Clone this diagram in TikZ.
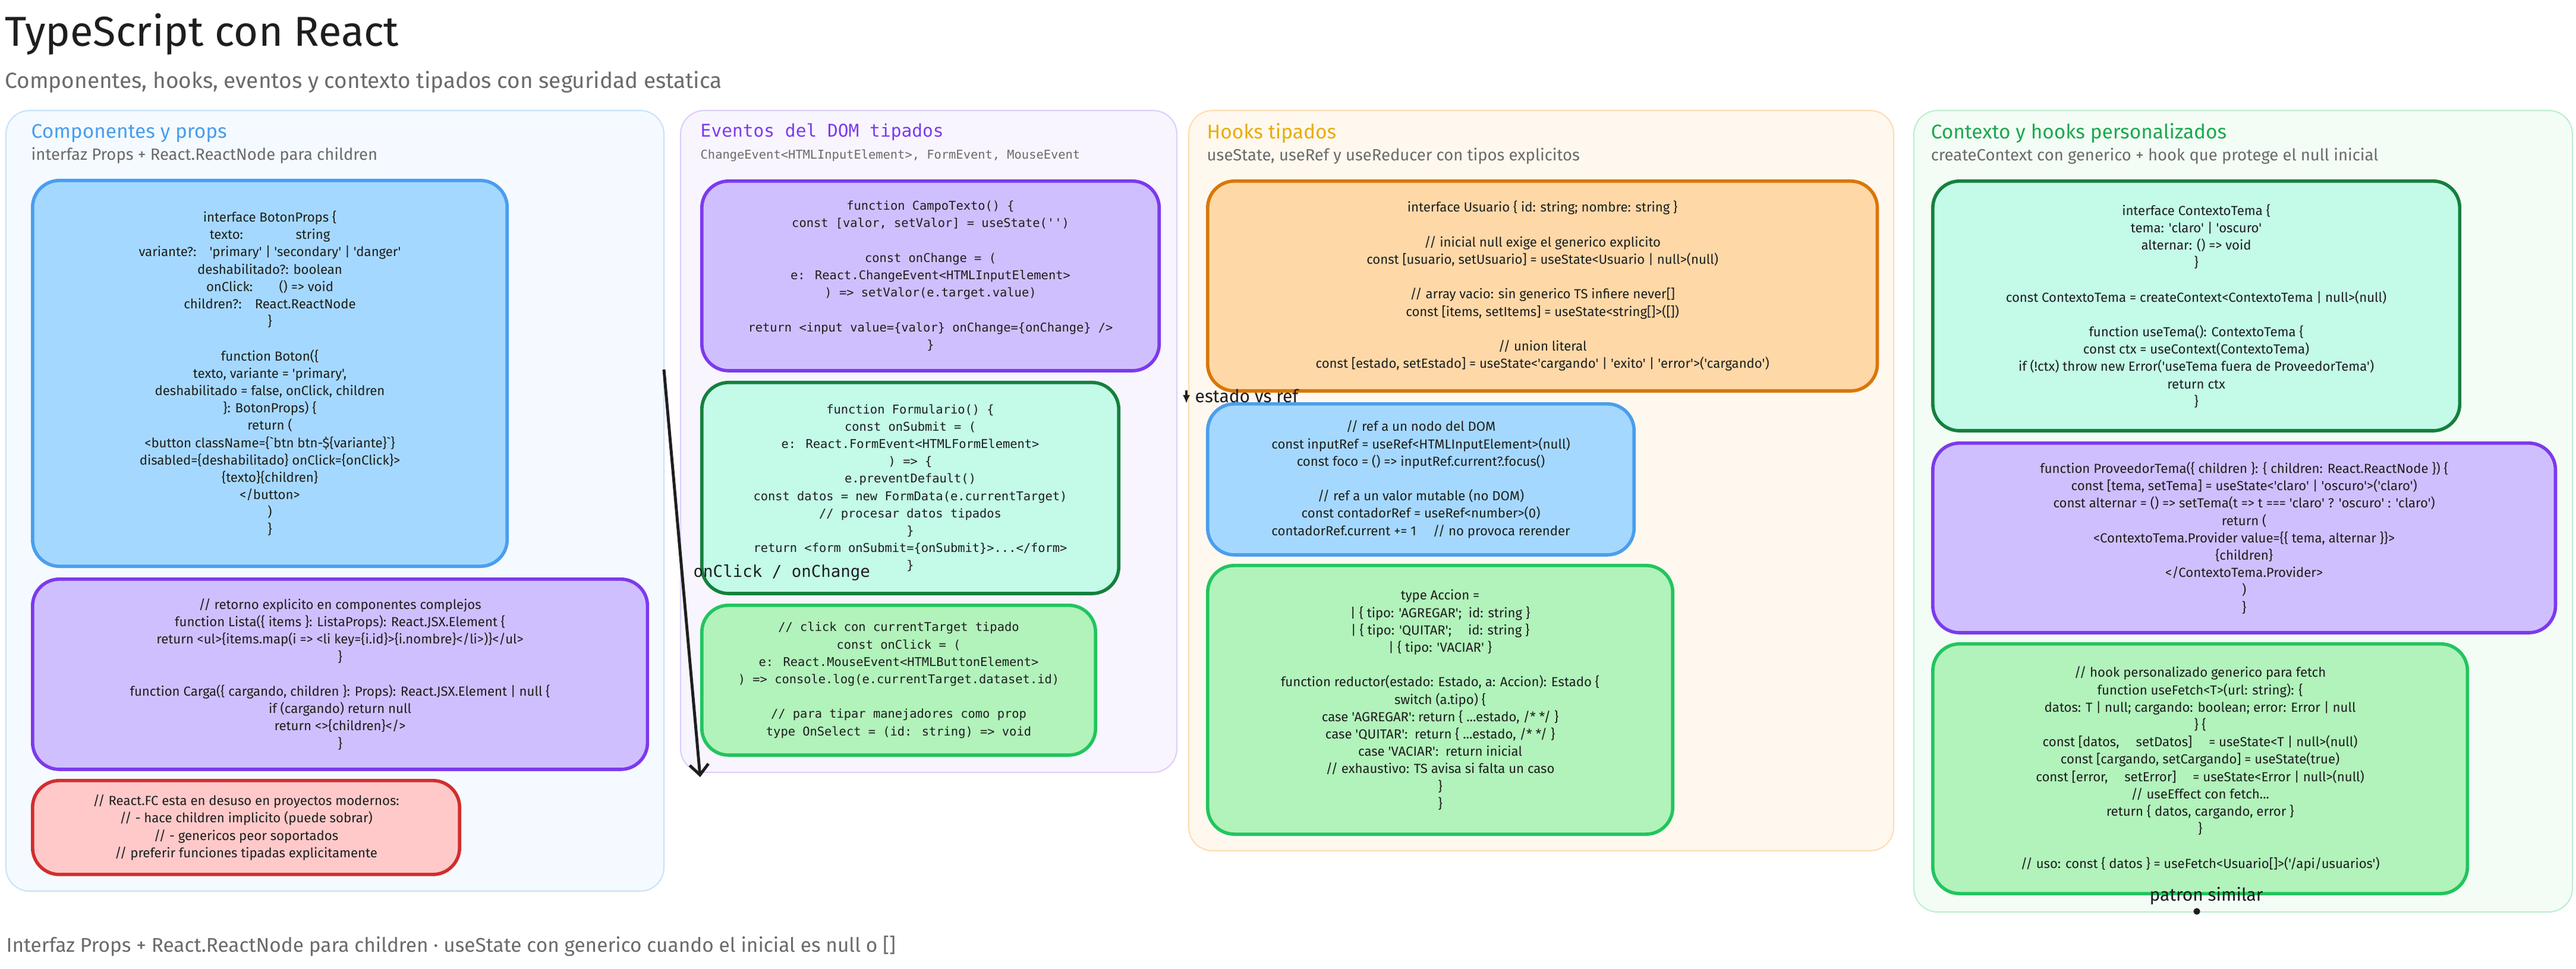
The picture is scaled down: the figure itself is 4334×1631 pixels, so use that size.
\documentclass[tikz,border=0pt]{standalone}
\usepackage{fontspec}
\setmainfont{Fira Sans}
\newfontfamily\handfont{Fira Sans}
\newfontfamily\monofont{DejaVu Sans Mono}
\usetikzlibrary{arrows.meta,positioning}

\definecolor{inkdark}{HTML}{1E1E1E}
\definecolor{subgray}{HTML}{6B6B6B}
\definecolor{bluefill}{HTML}{A5D8FF}
\definecolor{bluedraw}{HTML}{4A9EED}
\definecolor{purplefill}{HTML}{D0BFFF}
\definecolor{purpledraw}{HTML}{7C3AED}
\definecolor{mintfill}{HTML}{C3FAE8}
\definecolor{mintdraw}{HTML}{15803D}
\definecolor{greenfill}{HTML}{B2F2BB}
\definecolor{greendraw}{HTML}{22C55E}
\definecolor{redfill}{HTML}{FFC9C9}
\definecolor{reddraw}{HTML}{D12E2E}
\definecolor{orangefill}{HTML}{FFD8A8}
\definecolor{orangedraw}{HTML}{D97706}

\tikzset{
  panel/.style={rounded corners=0.4cm, line width=0.6pt},
  box/.style={rounded corners=0.45cm, line width=1.6pt, anchor=north west,
    align=center, inner sep=0pt, text=inkdark,
    font=\handfont\fontsize{6.3}{8.3}\selectfont},
  monobox/.style={box, font=\monofont\fontsize{5.8}{8.3}\selectfont},
  blue box/.style={box, draw=bluedraw, fill=bluefill},
  purple box/.style={box, draw=purpledraw, fill=purplefill},
  mint box/.style={box, draw=mintdraw, fill=mintfill},
  green box/.style={box, draw=greendraw, fill=greenfill},
  red box/.style={box, draw=reddraw, fill=redfill},
  orange box/.style={box, draw=orangedraw, fill=orangefill},
  head/.style={anchor=west, inner sep=0pt, font=\handfont\fontsize{9.5}{11}\selectfont},
  subhead/.style={anchor=west, inner sep=0pt, text=subgray, font=\handfont\fontsize{7.8}{9}\selectfont},
  tag/.style={inner sep=0pt, text=inkdark, font=\handfont\fontsize{8.5}{10}\selectfont},
}

\begin{document}
\begin{tikzpicture}[x=0.01cm, y=-0.01cm]
\useasboundingbox[fill=white] (0,0) rectangle (4334,1631);

% titulo
\node[anchor=west, inner sep=0pt, text=inkdark, font=\handfont\fontsize{20}{22}\selectfont] (title) at (8,58) {TypeScript con React};
\node[anchor=west, inner sep=0pt, text=subgray, font=\handfont\fontsize{10.5}{12}\selectfont] (subtitle) at (8,138) {Componentes, hooks, eventos y contexto tipados con seguridad estatica};

% paneles
\draw[panel, draw=bluedraw!30, fill=bluefill!12] (10,186) rectangle (1117,1500);
\draw[panel, draw=purpledraw!25, fill=purplefill!15] (1145,186) rectangle (1980,1300);
\draw[panel, draw=orangefill!90, fill=orangefill!18] (2000,186) rectangle (3186,1432);
\draw[panel, draw=greendraw!30, fill=greenfill!15] (3220,186) rectangle (4328,1535);

% componentes y props
\node[head, text=bluedraw] (propshead) at (52,224) {Componentes y props};
\node[subhead] (propssub) at (52,262) {interfaz Props + React.ReactNode para children};
\node[blue box, minimum width=7.98cm, minimum height=6.49cm] (boton) at (52,301) {interface BotonProps \{\\
texto:\qquad\qquad string\\
variante?:\quad 'primary' | 'secondary' | 'danger'\\
deshabilitado?: boolean\\
onClick:\qquad () => void\\
children?:\quad React.ReactNode\\
\}\\ ~\\
function Boton(\{\\
texto, variante = 'primary',\\
deshabilitado = false, onClick, children\\
\}: BotonProps) \{\\
return (\\
<button className=\{\textasciigrave btn btn-\$\{variante\}\textasciigrave\}\\
disabled=\{deshabilitado\} onClick=\{onClick\}>\\
\{texto\}\{children\}\\
</button>\\
)\\
\}};
\node[purple box, minimum width=10.34cm, minimum height=3.2cm] (lista) at (52,972) {// retorno explicito en componentes complejos\\
function Lista(\{ items \}: ListaProps): React.JSX.Element \{\\
return <ul>\{items.map(i => <li key=\{i.id\}>\{i.nombre\}</li>)\}</ul>\\
\}\\ ~\\
function Carga(\{ cargando, children \}: Props): React.JSX.Element | null \{\\
if (cargando) return null\\
return <>\{children\}</>\\
\}};
\node[red box, minimum width=7.18cm, minimum height=1.58cm] (fcnote) at (52,1311) {// React.FC esta en desuso en proyectos modernos:\\
// - hace children implicito (puede sobrar)\\
// - genericos peor soportados\\
// preferir funciones tipadas explicitamente};

% eventos del DOM
\node[head, text=purpledraw, font=\monofont\fontsize{8.4}{10}\selectfont] (evhead) at (1178,222) {Eventos del DOM tipados};
\node[subhead, font=\monofont\fontsize{5.8}{7}\selectfont] (evsub) at (1178,262) {ChangeEvent<HTMLInputElement>, FormEvent, MouseEvent};
\node[purple box, monobox, minimum width=7.69cm, minimum height=3.19cm] (campo) at (1178,302) {function CampoTexto() \{\\
const [valor, setValor] = useState('')\\ ~\\
const onChange = (\\
e: React.ChangeEvent<HTMLInputElement>\\
) => setValor(e.target.value)\\ ~\\
return <input value=\{valor\} onChange=\{onChange\} />\\
\}};
\node[mint box, monobox, minimum width=7.01cm, minimum height=3.55cm] (form) at (1178,641) {function Formulario() \{\\
const onSubmit = (\\
e: React.FormEvent<HTMLFormElement>\\
) => \{\\
e.preventDefault()\\
const datos = new FormData(e.currentTarget)\\
// procesar datos tipados\\
\}\\
return <form onSubmit=\{onSubmit\}>...</form>\\
\}};
\node[green box, monobox, minimum width=6.62cm, minimum height=2.52cm] (click) at (1178,1016) {// click con currentTarget tipado\\
const onClick = (\\
e: React.MouseEvent<HTMLButtonElement>\\
) => console.log(e.currentTarget.dataset.id)\\ ~\\
// para tipar manejadores como prop\\
type OnSelect = (id: string) => void};
\coordinate (evfrom) at (1117,622);
\coordinate (evto) at (1178,1308);
\draw[-{Straight Barb[length=5pt,width=9pt]}, line width=1.4pt, inkdark] (evfrom) -- (evto);
\node[tag, anchor=west, font=\monofont\fontsize{7.8}{9}\selectfont] (evlabel) at (1166,964) {onClick / onChange};

% hooks tipados
\node[head, text=orangedraw!60!yellow] (hookhead) at (2030,224) {Hooks tipados};
\node[subhead] (hooksub) at (2030,263) {useState, useRef y useReducer con tipos explicitos};
\node[orange box, minimum width=11.26cm, minimum height=3.53cm] (estado) at (2029,302) {interface Usuario \{ id: string; nombre: string \}\\ ~\\
// inicial null exige el generico explicito\\
const [usuario, setUsuario] = useState<Usuario | null>(null)\\ ~\\
// array vacio: sin generico TS infiere never[]\\
const [items, setItems] = useState<string[]>([])\\ ~\\
// union literal\\
const [estado, setEstado] = useState<'cargando' | 'exito' | 'error'>('cargando')};
\node[blue box, minimum width=7.17cm, minimum height=2.54cm] (refs) at (2029,677) {// ref a un nodo del DOM\\
const inputRef = useRef<HTMLInputElement>(null)\\
const foco = () => inputRef.current?.focus()\\ ~\\
// ref a un valor mutable (no DOM)\\
const contadorRef = useRef<number>(0)\\
contadorRef.current += 1 \quad // no provoca rerender};
\node[green box, minimum width=7.82cm, minimum height=4.52cm] (reductor) at (2029,949) {type Accion =\\
| \{ tipo: 'AGREGAR'; \ id: string \}\\
| \{ tipo: 'QUITAR'; \quad id: string \}\\
| \{ tipo: 'VACIAR' \}\\ ~\\
function reductor(estado: Estado, a: Accion): Estado \{\\
switch (a.tipo) \{\\
case 'AGREGAR': return \{ ...estado, /* */ \}\\
case 'QUITAR': \ return \{ ...estado, /* */ \}\\
case 'VACIAR': \ return inicial\\
// exhaustivo: TS avisa si falta un caso\\
\}\\
\}};
\coordinate (reffrom) at (1996,657);
\coordinate (refto) at (1996,679);
\draw[-{Latex[length=4pt,width=3.5pt]}, line width=1pt, inkdark] (reffrom) -- (refto);
\node[tag, anchor=west] (reflabel) at (2010,666) {estado vs ref};

% contexto y hooks personalizados
\node[head, text=greendraw!85!black] (ctxhead) at (3248,224) {Contexto y hooks personalizados};
\node[subhead] (ctxsub) at (3248,263) {createContext con generico + hook que protege el null inicial};
\node[mint box, minimum width=8.86cm, minimum height=4.2cm] (tema) at (3249,302) {interface ContextoTema \{\\
tema: 'claro' | 'oscuro'\\
alternar: () => void\\
\}\\ ~\\
const ContextoTema = createContext<ContextoTema | null>(null)\\ ~\\
function useTema(): ContextoTema \{\\
const ctx = useContext(ContextoTema)\\
if (!ctx) throw new Error('useTema fuera de ProveedorTema')\\
return ctx\\
\}};
\node[purple box, minimum width=10.47cm, minimum height=3.19cm] (proveedor) at (3249,743) {function ProveedorTema(\{ children \}: \{ children: React.ReactNode \}) \{\\
const [tema, setTema] = useState<'claro' | 'oscuro'>('claro')\\
const alternar = () => setTema(t => t === 'claro' ? 'oscuro' : 'claro')\\
return (\\
<ContextoTema.Provider value=\{\{ tema, alternar \}\}>\\
\{children\}\\
</ContextoTema.Provider>\\
)\\
\}};
\node[green box, minimum width=8.99cm, minimum height=4.2cm] (fetch) at (3249,1081) {// hook personalizado generico para fetch\\
function useFetch<T>(url: string): \{\\
datos: T | null; cargando: boolean; error: Error | null\\
\} \{\\
const [datos, \quad setDatos] \quad = useState<T | null>(null)\\
const [cargando, setCargando] = useState(true)\\
const [error, \quad setError] \quad = useState<Error | null>(null)\\
// useEffect con fetch...\\
return \{ datos, cargando, error \}\\
\}\\ ~\\
// uso: const \{ datos \} = useFetch<Usuario[]>('/api/usuarios')};
\node[tag] (similar) at (3712,1508) {patron similar};
\fill[inkdark] (3696,1534) circle (1.6pt);

% pie
\node[anchor=west, inner sep=0pt, text=subgray, font=\handfont\fontsize{9.5}{11}\selectfont] (footer) at (10,1592) {Interfaz Props + React.ReactNode para children · useState con generico cuando el inicial es null o []};
\end{tikzpicture}
\end{document}
